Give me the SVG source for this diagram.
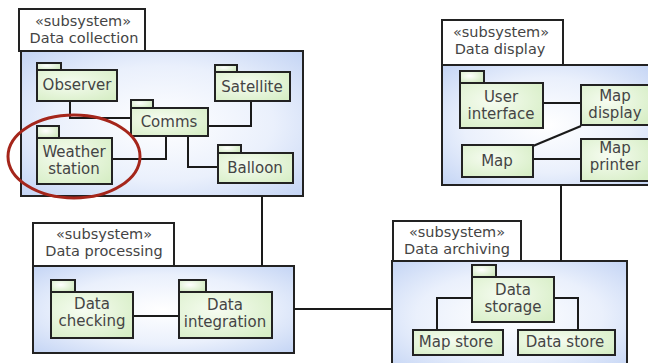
<svg xmlns="http://www.w3.org/2000/svg" width="648" height="363" viewBox="0 0 648 363">
  <defs>
    <radialGradient id="gradSub" cx="50%" cy="50%" r="72%">
      <stop offset="0" stop-color="#ffffff"/>
      <stop offset="0.55" stop-color="#eaf0fc"/>
      <stop offset="1" stop-color="#c2d3f4"/>
    </radialGradient>
    <radialGradient id="gradNode" cx="40%" cy="40%" r="75%">
      <stop offset="0" stop-color="#f6fcf1"/>
      <stop offset="1" stop-color="#d7eec6"/>
    </radialGradient>
    <radialGradient id="gradTab" cx="40%" cy="40%" r="70%">
      <stop offset="0" stop-color="#ffffff"/>
      <stop offset="1" stop-color="#cfe9bd"/>
    </radialGradient>
  </defs>
  <style>
    .box { fill: url(#gradSub); stroke: #222; stroke-width: 2; }
    .title { fill: #ffffff; stroke: #222; stroke-width: 2; }
    .body { fill: url(#gradNode); stroke: #222; stroke-width: 2; }
    .tab { fill: url(#gradTab); stroke: #222; stroke-width: 2; }
    .wire { fill: none; stroke: #1a1a1a; stroke-width: 2; }
    .ring { fill: none; stroke: #a5261b; stroke-width: 3; }
    text { font-family: "DejaVu Sans", "Liberation Sans", sans-serif; font-size: 15px; fill: #444444; text-anchor: middle; }
    text.hd { font-size: 14.5px; }
  </style>

  <rect width="648" height="363" fill="#ffffff"/>

  <!-- subsystem frames -->
  <g id="sub-data-collection">
    <rect class="box" x="21" y="51" width="282" height="145"/>
    <rect class="title" x="19" y="9" width="126" height="42"/>
    <text class="hd" x="83" y="26">«subsystem»</text>
    <text class="hd" x="84" y="43">Data collection</text>
  </g>
  <g id="sub-data-display">
    <rect class="box" x="442" y="65" width="210" height="120"/>
    <rect class="title" x="442" y="20" width="121" height="45"/>
    <text class="hd" x="501" y="37">«subsystem»</text>
    <text class="hd" x="500" y="54">Data display</text>
  </g>
  <g id="sub-data-processing">
    <rect class="box" x="33" y="266" width="261" height="87"/>
    <rect class="title" x="33" y="223" width="141" height="43"/>
    <text class="hd" x="104" y="239">«subsystem»</text>
    <text class="hd" x="104" y="256">Data processing</text>
  </g>
  <g id="sub-data-archiving">
    <rect class="box" x="392" y="261" width="235" height="110"/>
    <rect class="title" x="393" y="221" width="128" height="40"/>
    <text class="hd" x="457" y="237">«subsystem»</text>
    <text class="hd" x="457" y="254">Data archiving</text>
  </g>

  <!-- connectors -->
  <g id="connectors">
    <path class="wire" d="M70,101 V118 H131"/>
    <path class="wire" d="M208,126 H251 V101"/>
    <path class="wire" d="M112,159 H166 V136"/>
    <path class="wire" d="M188,136 V167 H218"/>
    <path class="wire" d="M262,196 V266"/>
    <path class="wire" d="M543,103 H581"/>
    <path class="wire" d="M533,146 L581,126"/>
    <path class="wire" d="M533,159 H581"/>
    <path class="wire" d="M561,185 V261"/>
    <path class="wire" d="M133,316 H179"/>
    <path class="wire" d="M294,309 H392"/>
    <path class="wire" d="M472,298 H437 V330"/>
    <path class="wire" d="M554,298 H578 V330"/>
  </g>

  <!-- Data collection packages -->
  <g id="observer">
    <rect class="tab" x="37" y="63" width="24" height="7"/>
    <rect class="body" x="37" y="70" width="80" height="31"/>
    <text x="77" y="90">Observer</text>
  </g>
  <g id="satellite">
    <rect class="tab" x="215" y="65" width="22" height="7"/>
    <rect class="body" x="215" y="72" width="75" height="29"/>
    <text x="252" y="92">Satellite</text>
  </g>
  <g id="comms">
    <rect class="tab" x="131" y="100" width="22" height="8"/>
    <rect class="body" x="131" y="108" width="77" height="28"/>
    <text x="169" y="127">Comms</text>
  </g>
  <g id="weather-station">
    <rect class="tab" x="37" y="126" width="22" height="12"/>
    <rect class="body" x="37" y="138" width="75" height="46"/>
    <text x="74" y="157">Weather</text>
    <text x="74" y="174">station</text>
  </g>
  <g id="balloon">
    <rect class="tab" x="218" y="145" width="23" height="8"/>
    <rect class="body" x="218" y="153" width="75" height="30"/>
    <text x="255" y="173">Balloon</text>
  </g>

  <!-- Data display packages -->
  <g id="user-interface">
    <rect class="tab" x="460" y="71" width="24" height="12"/>
    <rect class="body" x="460" y="83" width="83" height="45"/>
    <text x="501" y="102">User</text>
    <text x="501" y="119">interface</text>
  </g>
  <g id="map-display">
    <rect class="body" x="581" y="85" width="68" height="40"/>
    <text x="615" y="101">Map</text>
    <text x="615" y="118">display</text>
  </g>
  <g id="map">
    <rect class="body" x="462" y="145" width="71" height="32"/>
    <text x="497" y="166">Map</text>
  </g>
  <g id="map-printer">
    <rect class="body" x="581" y="139" width="68" height="42"/>
    <text x="615" y="153">Map</text>
    <text x="615" y="170">printer</text>
  </g>

  <!-- Data processing packages -->
  <g id="data-checking">
    <rect class="tab" x="51" y="280" width="24" height="12"/>
    <rect class="body" x="51" y="292" width="82" height="46"/>
    <text x="92" y="309">Data</text>
    <text x="92" y="326">checking</text>
  </g>
  <g id="data-integration">
    <rect class="tab" x="179" y="280" width="27" height="12"/>
    <rect class="body" x="179" y="292" width="93" height="46"/>
    <text x="225" y="310">Data</text>
    <text x="225" y="327">integration</text>
  </g>

  <!-- Data archiving packages -->
  <g id="data-storage">
    <rect class="tab" x="472" y="265" width="24" height="12"/>
    <rect class="body" x="472" y="277" width="82" height="45"/>
    <text x="513" y="295">Data</text>
    <text x="513" y="312">storage</text>
  </g>
  <g id="map-store">
    <rect class="body" x="413" y="330" width="90" height="25"/>
    <text x="456" y="347">Map store</text>
  </g>
  <g id="data-store">
    <rect class="body" x="518" y="330" width="97" height="25"/>
    <text x="565" y="347">Data store</text>
  </g>

  <!-- highlight ring -->
  <ellipse id="highlight" class="ring" cx="74" cy="156.5" rx="66" ry="41.5"/>
</svg>
